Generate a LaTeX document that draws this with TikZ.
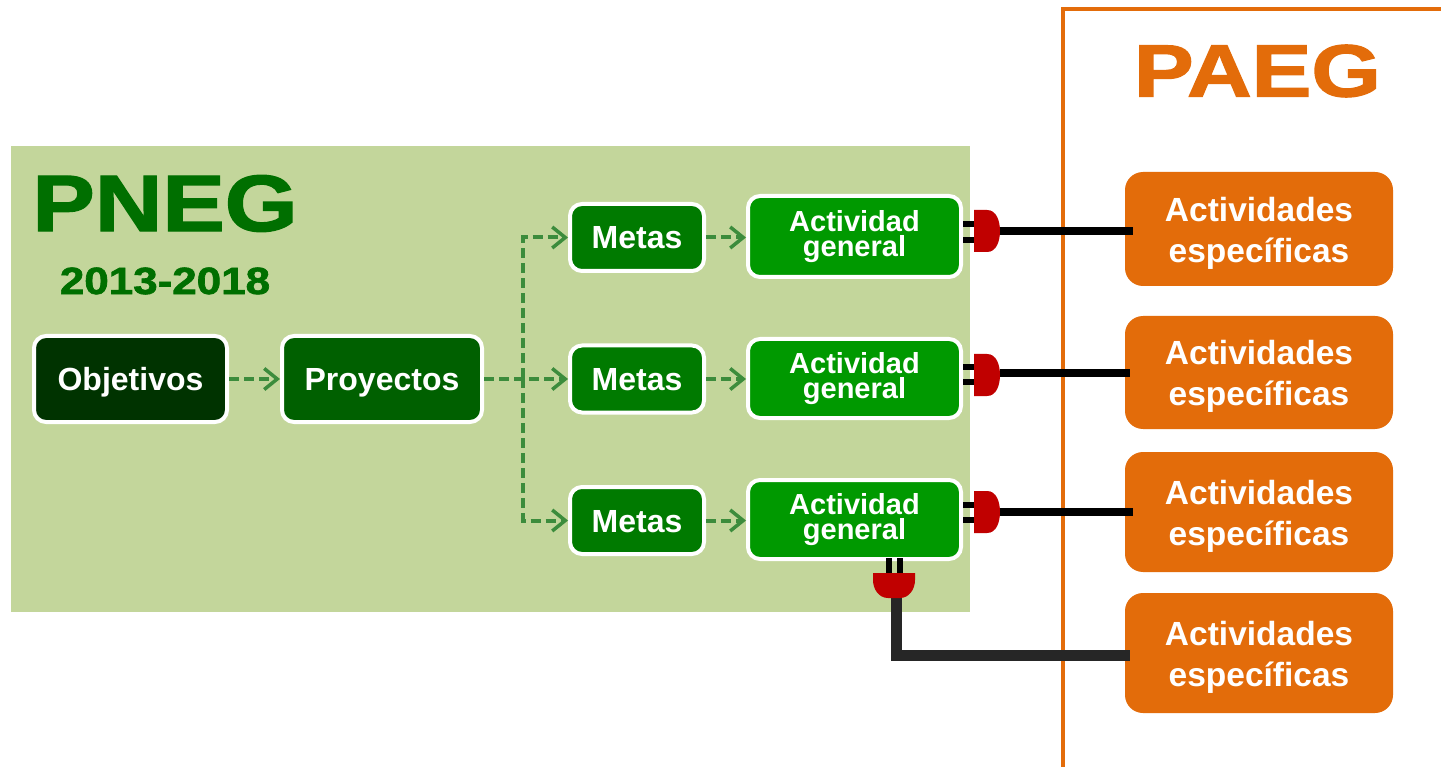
\documentclass[tikz,border=0pt]{standalone}
\usepackage{fontspec}
\setmainfont{Liberation Sans}
\newfontfamily\headfont[BoldFeatures={FakeBold=1.6}]{Liberation Sans}
\usetikzlibrary{arrows.meta}
\definecolor{bggreen}{HTML}{C3D69B}
\definecolor{titlegreen}{HTML}{006F00}
\definecolor{darkobj}{HTML}{003300}
\definecolor{midproy}{HTML}{006000}
\definecolor{metasg}{HTML}{007A00}
\definecolor{actg}{HTML}{009900}
\definecolor{orangeb}{HTML}{E36C0A}
\definecolor{flowg}{HTML}{3C8C3C}
\definecolor{plugred}{HTML}{C00000}
\definecolor{wiredark}{HTML}{262626}
\tikzset{
  x=1pt,y=-1pt,
  whitebox/.style={draw=white,line width=4pt,rounded corners=12pt,text=white,inner sep=0pt,align=center,font=\bfseries},
  greenlabel/.style={font=\fontsize{32}{32}\selectfont\bfseries,text height=23pt,text depth=0pt},
  actlabel/.style={font=\fontsize{29}{25}\selectfont\bfseries},
  orangebox/.style={fill=orangeb,rounded corners=18pt,text=white,inner sep=0pt,align=center,minimum width=268pt,font=\fontsize{33.5}{41}\selectfont\bfseries},
  headline/.style={font=\headfont\fontsize{#1}{#1}\selectfont\bfseries},
  flow/.style={draw=flowg,line width=4pt,dash pattern=on 10pt off 5pt},
  flowtip/.style={flow,-{Straight Barb[length=13pt,width=21pt,line width=3.5pt]}},
  plugbox/.style={inner sep=0pt,minimum width=#1,outer sep=0pt},
  prong/.style={draw=black,line width=6pt},
  wire/.style={draw=black,line width=8pt},
  darkwire/.style={draw=wiredark,line width=11pt,line join=miter},
}
\newcommand{\plugright}[1]{\fill[plugred] (#1.north west) -- (#1.north) to[out=0,in=90] (#1.east) to[out=-90,in=0] (#1.south) -- (#1.south west) -- cycle;}
\newcommand{\lowerline}{\rule{0pt}{32pt}}
\begin{document}
\begin{tikzpicture}
\useasboundingbox (0,0) rectangle (1441,767);
\fill[white] (0,0) rectangle (1441,767);
\fill[bggreen] (11,146) rectangle (970,612);
\draw[orangeb,line width=4pt] (1063,769) -- (1063,9) -- (1443,9);

\node[text=titlegreen,headline=80,xscale=1.17] (pneg) at (165,203.5) {PNEG};
\node[text=titlegreen,headline=38,xscale=1.157] (years) at (165,281) {2013-2018};
\node[text=orangeb,headline=74,xscale=1.21] (paeg) at (1257.5,71) {PAEG};

\node[whitebox,greenlabel,fill=darkobj,minimum width=193pt,minimum height=86pt] (obj) at (130.5,379) {Objetivos};
\node[whitebox,greenlabel,fill=midproy,minimum width=200pt,minimum height=86pt] (proy) at (382,379) {Proyectos};

\node[whitebox,greenlabel,fill=metasg,minimum width=134pt,minimum height=67pt] (m1) at (637,237.5) {Metas};
\node[whitebox,greenlabel,fill=metasg,minimum width=134pt,minimum height=67pt] (m2) at (637,379) {Metas};
\node[whitebox,greenlabel,fill=metasg,minimum width=134pt,minimum height=67pt] (m3) at (637,520.5) {Metas};

\node[whitebox,actlabel,fill=actg,minimum width=213pt,minimum height=81pt] (a1) at (854.5,236.5) {Actividad\\general};
\node[whitebox,actlabel,fill=actg,minimum width=213pt,minimum height=79pt] (a2) at (854.5,378.5) {Actividad\\general};
\node[whitebox,actlabel,fill=actg,minimum width=213pt,minimum height=79pt] (a3) at (854.5,519.5) {Actividad\\general};

\node[orangebox,minimum height=114pt] (o1) at (1259,229) {\lowerline Actividades\\específicas};
\node[orangebox,minimum height=113pt] (o2) at (1259,372.5) {\lowerline Actividades\\específicas};
\node[orangebox,minimum height=120pt] (o3) at (1259,512) {\lowerline Actividades\\específicas};
\node[orangebox,minimum height=120pt] (o4) at (1259,653) {\lowerline Actividades\\específicas};

% flow arrows
\coordinate (branch) at (523,378);
\draw[flowtip] (obj.east) -- (proy.west);
\draw[flowtip] (proy.east) -- (m2.west);
\draw[flowtip] (branch) |- (m1.west);
\draw[flowtip] (branch) |- (m3.west);
\draw[flowtip] (m1.east) -- (a1.west |- m1.east);
\draw[flowtip] (m2.east) -- (a2.west |- m2.east);
\draw[flowtip] (m3.east) -- (a3.west |- m3.east);

% plugs
\node[plugbox=26pt,minimum height=42pt] (p1) at (987,231) {};
\node[plugbox=26pt,minimum height=42pt] (p2) at (987,375) {};
\node[plugbox=26pt,minimum height=42pt] (p3) at (987,512) {};
\coordinate (w4) at (896,655);
\node[plugbox=42pt,minimum height=25pt] (p4) at (894,585.5) {};

\foreach \p/\a/\y in {p1/a1/224,p1/a1/240,p2/a2/367,p2/a2/382,p3/a3/505,p3/a3/520}{
  \draw[prong] (\a.east |- 0,\y) -- (\p.west |- 0,\y);
}
\draw[prong] (889,558) -- (889,575);
\draw[prong] (900,558) -- (900,575);

\draw[wire] (p1.east) -- (1133,231);
\draw[wire] (p2.east |- 0,373) -- (1130,373);
\draw[wire] (p3.east) -- (1133,512);
\draw[darkwire] (896,597) -- (w4) -- (w4 -| o4.west) -- ++(5,0);

\plugright{p1}
\plugright{p2}
\plugright{p3}
\fill[plugred] (p4.north west) -- (p4.north east) -- ([yshift=-7pt]p4.north east) to[out=-90,in=0] ([xshift=6pt]p4.south) -- ([xshift=-6pt]p4.south) to[out=180,in=-90] ([yshift=-7pt]p4.north west) -- cycle;
\end{tikzpicture}
\end{document}
